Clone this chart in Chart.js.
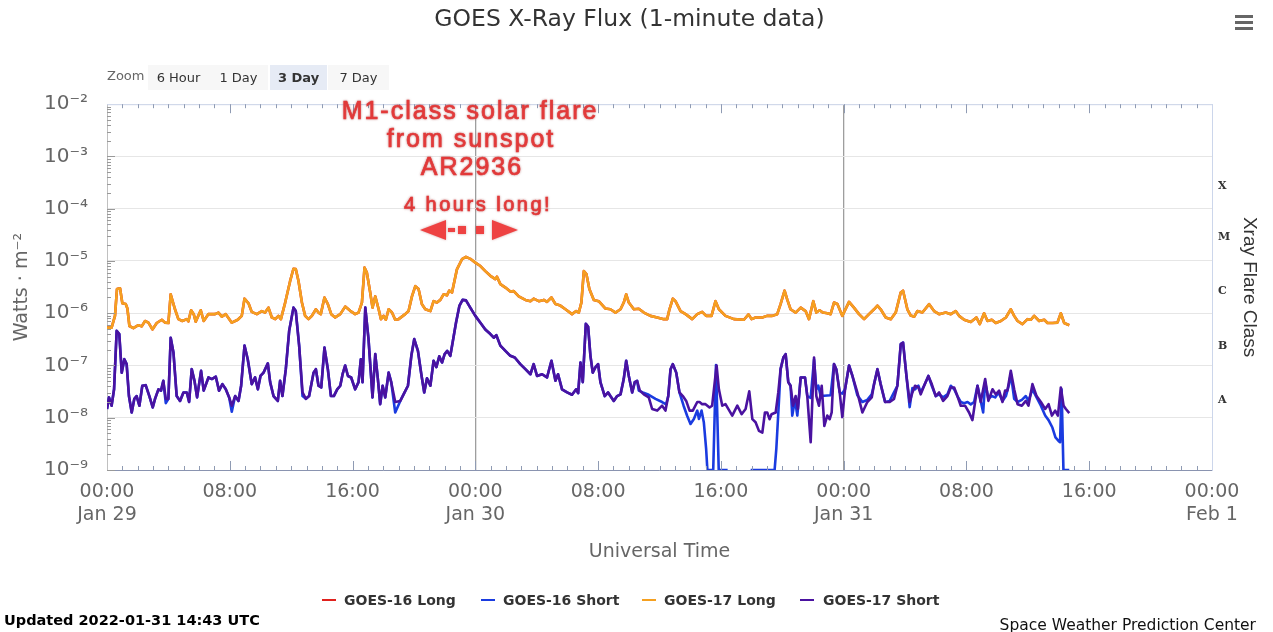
<!DOCTYPE html>
<html>
<head>
<meta charset="utf-8">
<title>GOES X-Ray Flux</title>
<script src="https://cdn.jsdelivr.net/npm/chart.js@4.4.1/dist/chart.umd.min.js"></script>
<style>
  html, body { margin: 0; padding: 0; background: #fff; }
  #wrap { position: relative; width: 1273px; height: 632px; overflow: hidden; font-family: "DejaVu Sans", sans-serif; }
  #chart { position: absolute; left: 0; top: 0; }
  .abs { position: absolute; white-space: nowrap; }
  .zoomlabel { left: 107px; top: 68px; font-size: 13px; color: #666; line-height: 16px; }
  .btn { top: 65px; height: 25px; line-height: 25px; font-size: 13px; color: #333; background: #f7f7f7; text-align: center; }
  .btn.on { background: #e6ebf5; font-weight: bold; }
  .menu { left: 1235px; width: 18px; height: 3px; background: #666; }
  .sym { top: 599px; width: 14px; height: 2px; }
  .leg { top: 591px; font-size: 14px; font-weight: bold; color: #333; line-height: 18px; }
  .updated { left: 4px; top: 611px; font-size: 14.5px; font-weight: bold; color: #000; line-height: 18px; }
  .credit { right: 17px; top: 616px; font-size: 15.5px; color: #111; line-height: 18px; }
</style>
</head>
<body>
<div id="wrap">
  <canvas id="chart" width="1273" height="632"></canvas>

  <div class="abs zoomlabel">Zoom</div>
  <div class="abs btn" style="left:148px;width:61px">6 Hour</div>
  <div class="abs btn" style="left:209px;width:59px">1 Day</div>
  <div class="abs btn on" style="left:270px;width:57px">3 Day</div>
  <div class="abs btn" style="left:328px;width:61px">7 Day</div>

  <div class="abs menu" style="top:15px"></div>
  <div class="abs menu" style="top:21px"></div>
  <div class="abs menu" style="top:27px"></div>

  <div class="abs sym" style="left:322px;background:#e0211d"></div>
  <div class="abs leg" style="left:344px">GOES-16 Long</div>
  <div class="abs sym" style="left:481px;background:#1a3be0"></div>
  <div class="abs leg" style="left:503px">GOES-16 Short</div>
  <div class="abs sym" style="left:642px;background:#f5a020"></div>
  <div class="abs leg" style="left:664px">GOES-17 Long</div>
  <div class="abs sym" style="left:800px;background:#4a12a0"></div>
  <div class="abs leg" style="left:823px">GOES-17 Short</div>

  <div class="abs updated">Updated 2022-01-31 14:43 UTC</div>
  <div class="abs credit">Space Weather Prediction Center</div>
</div>

<script>
// hours since 2022-01-29 00:00 UTC, flux in W/m^2
const dayLabels = ['Jan 29', 'Jan 30', 'Jan 31', 'Feb 1'];
const decadeTicks = [1e-9, 1e-8, 1e-7, 1e-6, 1e-5, 1e-4, 1e-3, 1e-2];
const flareClasses = ['A', 'B', 'C', 'M', 'X'];
const flareTicks = [2.2e-8, 2.3e-7, 2.7e-6, 2.8e-5, 2.65e-4];

const long17Hours = [
  0, 0.3, 0.52, 0.65, 0.85, 1.0, 1.22, 1.33, 1.46, 1.72,
  2.04, 2.26, 2.48, 2.7, 2.96, 3.24, 3.57, 3.78, 4.0, 4.15,
  4.43, 4.65, 4.91, 5.2, 5.3, 5.48, 5.65, 5.78, 6.11, 6.3,
  6.6, 7.04, 7.26, 7.48, 7.74, 8.13, 8.52, 8.78, 8.96, 9.22,
  9.43, 9.76, 10.09, 10.3, 10.52, 10.74, 10.96, 11.17, 11.33, 11.61,
  11.93, 12.15, 12.3, 12.48, 12.7, 12.91, 13.13, 13.35, 13.61, 13.78,
  13.93, 14.17, 14.39, 14.61, 14.87, 15.2, 15.52, 15.85, 16.17, 16.39,
  16.61, 16.78, 16.93, 17.15, 17.3, 17.48, 17.7, 17.85, 18.02, 18.17,
  18.35, 18.57, 18.78, 19.0, 19.43, 19.65, 19.87, 20.09, 20.3, 20.52,
  20.74, 21.07, 21.28, 21.5, 21.72, 21.93, 22.15, 22.3, 22.48, 22.8,
  23.13, 23.39, 23.67, 24.0, 24.33, 24.65, 24.98, 25.3, 25.41, 25.63,
  25.96, 26.28, 26.5, 26.83, 27.26, 27.59, 27.8, 28.13, 28.46, 28.67,
  28.96, 29.22, 29.54, 29.87, 30.3, 30.57, 30.74, 30.91, 31.07, 31.24,
  31.43, 31.72, 32.04, 32.48, 32.8, 33.13, 33.46, 33.67, 33.83, 34.0,
  34.33, 34.65, 34.98, 35.41, 35.85, 36.28, 36.5, 36.65, 36.87, 37.04,
  37.37, 37.7, 38.13, 38.46, 38.78, 39.04, 39.39, 39.65, 39.87, 40.3,
  40.85, 41.5, 41.8, 42.0, 42.26, 42.7, 43.0, 43.35, 43.67, 43.89,
  44.15, 44.33, 44.54, 44.87, 45.2, 45.52, 45.74, 46.02, 46.22, 46.43,
  46.65, 46.93, 47.15, 47.37, 47.59, 47.91, 48.35, 48.67, 49.0, 49.33,
  49.65, 49.98, 50.2, 50.41, 50.74, 51.07, 51.39, 51.72, 51.87, 52.15,
  52.37, 52.6, 52.8, 53.13, 53.57, 53.89, 54.22, 54.65, 54.98, 55.3,
  55.52, 55.85, 56.28, 56.65, 56.87, 57.15, 57.37, 57.65, 57.91, 58.24,
  58.57, 58.89, 59.11, 59.33, 59.65, 59.98, 60.2, 60.41, 60.74, 61.07,
  61.28, 61.61, 61.93, 62.15, 62.37, 62.7
];
const long17Flux = [
  5.3e-7, 5.3e-7, 8.9e-7, 2.9e-6, 3.0e-6, 1.55e-6, 1.5e-6, 1.23e-6, 5.7e-7, 5.2e-7,
  5.9e-7, 5.6e-7, 7.1e-7, 6.6e-7, 4.9e-7, 6.5e-7, 7.5e-7, 6.6e-7, 6.5e-7, 2.3e-6,
  1.19e-6, 7.7e-7, 7.1e-7, 7.7e-7, 7.0e-7, 1.14e-6, 9.6e-7, 6.9e-7, 1.14e-6, 7.1e-7,
  9.6e-7, 9.6e-7, 1.03e-6, 8.6e-7, 9.6e-7, 6.6e-7, 7.5e-7, 8.9e-7, 1.9e-6, 1.55e-6,
  1.06e-6, 9.6e-7, 1.1e-6, 1.03e-6, 1.28e-6, 8.3e-7, 7.7e-7, 8.9e-7, 7.7e-7, 1.6e-6,
  4.1e-6, 7.1e-6, 7.0e-6, 4.1e-6, 1.6e-6, 8.9e-7, 7.7e-7, 8.9e-7, 1.19e-6, 1.03e-6,
  9.6e-7, 2.0e-6, 1.49e-6, 9.6e-7, 8.3e-7, 9.6e-7, 1.34e-6, 1.11e-6, 9.6e-7, 1.03e-6,
  1.6e-6, 7.5e-6, 6.0e-6, 2.5e-6, 1.28e-6, 2.1e-6, 1.19e-6, 7.7e-7, 8.9e-7, 7.5e-7,
  1.19e-6, 1.03e-6, 7.5e-7, 7.7e-7, 9.6e-7, 1.1e-6, 2.1e-6, 3.3e-6, 2.9e-6, 1.49e-6,
  1.19e-6, 1.1e-6, 1.7e-6, 1.6e-6, 1.8e-6, 2.3e-6, 2.2e-6, 2.7e-6, 2.5e-6, 6.9e-6,
  1.08e-5, 1.2e-5, 1.1e-5, 9.3e-6, 8.0e-6, 6.4e-6, 5.2e-6, 4.5e-6, 5.0e-6, 3.6e-6,
  3.1e-6, 2.6e-6, 2.65e-6, 2.1e-6, 1.8e-6, 1.7e-6, 1.9e-6, 1.7e-6, 1.8e-6, 1.65e-6,
  2.0e-6, 1.5e-6, 1.4e-6, 1.19e-6, 9.6e-7, 1.1e-6, 1.03e-6, 1.6e-6, 6.4e-6, 5.6e-6,
  2.9e-6, 1.8e-6, 1.7e-6, 1.23e-6, 1.19e-6, 1.03e-6, 1.19e-6, 1.6e-6, 2.3e-6, 1.6e-6,
  1.19e-6, 1.22e-6, 1.03e-6, 8.9e-7, 8.3e-7, 7.7e-7, 7.7e-7, 1.19e-6, 1.9e-6, 1.7e-6,
  1.1e-6, 9.6e-7, 7.7e-7, 9.6e-7, 1.06e-6, 8.9e-7, 8.9e-7, 1.7e-6, 1.19e-6, 8.9e-7,
  7.7e-7, 7.5e-7, 9.5e-7, 7.7e-7, 8.3e-7, 8.3e-7, 8.9e-7, 8.9e-7, 9.6e-7, 1.49e-6,
  2.7e-6, 1.8e-6, 1.19e-6, 1.03e-6, 1.28e-6, 1.1e-6, 7.7e-7, 1.7e-6, 1.03e-6, 1.14e-6,
  1.03e-6, 1.0e-6, 9.6e-7, 1.6e-6, 1.5e-6, 8.9e-7, 1.65e-6, 1.28e-6, 9.6e-7, 7.7e-7,
  9.6e-7, 1.19e-6, 1.4e-6, 1.19e-6, 8.3e-7, 7.7e-7, 1.03e-6, 2.5e-6, 2.7e-6, 1.19e-6,
  9.0e-7, 8.6e-7, 1.1e-6, 1.03e-6, 1.49e-6, 1.1e-6, 9.6e-7, 1.03e-6, 9.6e-7, 1.1e-6,
  8.9e-7, 7.5e-7, 6.8e-7, 8.3e-7, 6.2e-7, 1.0e-6, 7.1e-7, 7.5e-7, 6.5e-7, 7.1e-7,
  8.3e-7, 1.19e-6, 8.9e-7, 7.1e-7, 6.2e-7, 7.7e-7, 7.5e-7, 8.9e-7, 7.1e-7, 7.5e-7,
  6.5e-7, 6.5e-7, 6.6e-7, 1.0e-6, 6.5e-7, 5.9e-7
];

// GOES-16 long sits exactly under GOES-17 long in the picture
const long16Hours = long17Hours;
const long16Flux = long17Flux;

const short17Hours = [
  0, 0.13, 0.3, 0.46, 0.63, 0.8, 0.96, 1.13, 1.28, 1.43,
  1.61, 1.78, 1.93, 2.11, 2.3, 2.52, 2.76, 2.98, 3.13, 3.35,
  3.52, 3.67, 3.83, 4.0, 4.15, 4.33, 4.54, 4.76, 4.98, 5.2,
  5.35, 5.52, 5.7, 5.87, 6.13, 6.3, 6.61, 6.83, 7.09, 7.3,
  7.52, 7.74, 7.96, 8.13, 8.35, 8.57, 8.74, 8.96, 9.17, 9.43,
  9.65, 9.83, 10.0, 10.2, 10.48, 10.63, 10.85, 11.13, 11.28, 11.43,
  11.65, 11.87, 12.15, 12.3, 12.52, 12.74, 12.96, 13.17, 13.46, 13.61,
  13.78, 13.96, 14.17, 14.39, 14.59, 14.78, 15.0, 15.2, 15.35, 15.52,
  15.7, 15.91, 16.17, 16.39, 16.54, 16.65, 16.83, 17.04, 17.3, 17.48,
  17.65, 17.8, 17.96, 18.13, 18.35, 18.52, 18.78, 19.11, 19.39, 19.61,
  19.83, 20.02, 20.26, 20.48, 20.67, 20.85, 21.07, 21.28, 21.46, 21.65,
  21.83, 22.0, 22.17, 22.37, 22.52, 22.74, 22.96, 23.17, 23.39, 23.67,
  24.0, 24.33, 24.65, 24.98, 25.2, 25.37, 25.63, 25.96, 26.28, 26.57,
  26.93, 27.26, 27.59, 27.8, 28.02, 28.35, 28.67, 28.96, 29.22, 29.39,
  29.65, 29.98, 30.3, 30.57, 30.7, 30.85, 31.0, 31.2, 31.35, 31.5,
  31.65, 31.83, 32.0, 32.15, 32.43, 32.65, 32.8, 33.02, 33.24, 33.46,
  33.67, 33.83, 34.0, 34.22, 34.39,
  34.54, 34.72, 34.98, 35.3, 35.52, 35.85, 36.17, 36.39, 36.57, 36.72,
  36.87, 37.09, 37.3, 37.52, 37.74, 37.96, 38.17, 38.46, 38.61, 38.78,
  39.0, 39.26, 39.43, 39.72, 39.87, 40.09, 40.3, 40.74, 41.07, 41.35,
  41.61, 41.85, 42.05, 42.26, 42.48, 42.7, 42.87, 43.02, 43.17, 43.3,
  43.57, 43.74, 43.89, 44.07, 44.22, 44.39, 44.54, 44.7, 44.87, 45.02,
  45.2, 45.48, 45.63, 45.85, 46.07, 46.22, 46.39, 46.57, 46.74, 46.93,
  47.09, 47.22, 47.37, 47.52, 47.74, 47.91, 48.09, 48.35, 48.57, 48.89,
  49.22, 49.54, 49.83, 49.98, 50.2, 50.41, 50.7, 51.0, 51.28, 51.5,
  51.72, 51.87, 52.09, 52.3, 52.48, 52.65, 52.87, 53.02, 53.24, 53.52,
  53.74, 54.0, 54.22, 54.48, 54.76, 54.98, 55.2, 55.41, 55.63, 55.91,
  56.17, 56.39, 56.72, 56.93, 57.22, 57.43, 57.7, 57.91, 58.13, 58.35,
  58.52, 58.67, 58.89, 59.11, 59.33, 59.61, 59.87, 60.04, 60.3, 60.57,
  60.85, 61.13, 61.35, 61.57, 61.78, 61.96, 62.15, 62.33, 62.48, 62.7
];
const short17Flux = [
  1.47e-8, 2.45e-8, 1.7e-8, 3.5e-8, 4.6e-7, 4.0e-7, 7.3e-8, 1.32e-7, 1.06e-7, 2.6e-8,
  1.26e-8, 2.3e-8, 2.6e-8, 1.7e-8, 4.1e-8, 4.2e-8, 2.6e-8, 1.57e-8, 2.3e-8, 3.5e-8,
  3.3e-8, 5.1e-8, 2.3e-8, 2.3e-8, 3.4e-7, 1.77e-7, 2.6e-8, 2.1e-8, 3.05e-8, 3.05e-8,
  2.0e-8, 8.5e-8, 5.1e-8, 2.45e-8, 7.9e-8, 3.3e-8, 5.9e-8, 5.5e-8, 6.1e-8, 3.3e-8,
  4.4e-8, 3.5e-8, 2.45e-8, 1.7e-8, 2.6e-8, 2.1e-8, 4.1e-8, 2.4e-7, 1.32e-7, 4.4e-8,
  5.9e-8, 3.5e-8, 6.3e-8, 7.3e-8, 1.1e-7, 4.8e-8, 2.6e-8, 2.1e-8, 5.1e-8, 2.6e-8,
  8.5e-8, 4.6e-7, 1.28e-6, 1.1e-6, 2.4e-7, 3.05e-8, 2.3e-8, 2.6e-8, 7.3e-8, 8.5e-8,
  4.1e-8, 3.8e-8, 2.2e-7, 8.5e-8, 2.6e-8, 2.6e-8, 3.5e-8, 4.1e-8, 6.8e-8, 1.0e-7,
  6.3e-8, 5.9e-8, 3.5e-8, 4.8e-8, 1.32e-7, 4.8e-8, 1.28e-6, 3.2e-7, 2.45e-8, 1.65e-7,
  5.5e-8, 1.82e-8, 4.1e-8, 2.45e-8, 7.3e-8, 4.8e-8, 2.0e-8, 2.1e-8, 3.05e-8, 4.1e-8,
  1.53e-7, 3.2e-7, 1.9e-7, 6.8e-8, 3.05e-8, 5.7e-8, 4.1e-8, 1.23e-7, 9.3e-8, 1.5e-7,
  1.14e-7, 1.65e-7, 1.9e-7, 1.53e-7, 2.75e-7, 6.6e-7, 1.38e-6, 1.8e-6, 1.76e-6, 1.28e-6,
  8.9e-7, 6.6e-7, 4.9e-7, 4.0e-7, 3.4e-7, 3.8e-7, 2.4e-7, 1.9e-7, 1.53e-7, 1.42e-7,
  1.06e-7, 8.5e-8, 6.8e-8, 1.06e-7, 6.3e-8, 6.8e-8, 5.9e-8, 1.23e-7, 5.1e-8, 6.8e-8,
  3.5e-8, 3.05e-8, 2.75e-8, 3.5e-8, 2.95e-8, 1.14e-7, 4.8e-8, 6.3e-7, 5.5e-7, 1.53e-7,
  7.3e-8, 9.3e-8, 1.06e-7, 4.8e-8, 2.6e-8, 3.05e-8, 2.6e-8, 2.1e-8, 2.6e-8, 2.8e-8,
  5.5e-8, 1.23e-7, 6.3e-8, 3.05e-8, 4.8e-8,
  5.1e-8, 3.3e-8, 2.8e-8, 2.45e-8, 1.47e-8, 1.37e-8, 1.7e-8, 1.37e-8, 2.6e-8, 8.5e-8,
  1.06e-7, 7.3e-8, 3.05e-8, 2.6e-8, 2.1e-8, 1.37e-8, 1.37e-8, 2.0e-8, 2.0e-8, 1.82e-8,
  1.82e-8, 1.57e-8, 1.7e-8, 1.0e-7, 3.5e-8, 1.7e-8, 1.82e-8, 1.1e-8, 1.7e-8, 1.17e-8,
  1.47e-8, 3.2e-8, 9.4e-9, 8.2e-9, 5.6e-9, 5.2e-9, 1.26e-8, 1.26e-8, 9.4e-9, 1.17e-8,
  1.26e-8, 3.05e-8, 8.5e-8, 1.42e-7, 1.65e-7, 4.8e-8, 4.1e-8, 1.7e-8, 2.6e-8, 1.47e-8,
  5.9e-8, 5.9e-8, 2.6e-8, 3.4e-9, 1.42e-7, 2.6e-8, 1.7e-8, 4.1e-8, 7.0e-9, 1.1e-8,
  9.4e-9, 1.26e-8, 1.06e-7, 8.5e-8, 3.05e-8, 1.03e-8, 3.5e-8, 1.0e-7, 6.3e-8, 3.05e-8,
  1.26e-8, 2.0e-8, 2.45e-8, 4.4e-8, 8.5e-8, 4.4e-8, 2.0e-8, 2.0e-8, 2.3e-8, 4.1e-8,
  2.56e-7, 2.75e-7, 6.3e-8, 2.0e-8, 3.05e-8, 4.1e-8, 3.8e-8, 2.8e-8, 4.1e-8, 6.3e-8,
  4.4e-8, 2.6e-8, 3.05e-8, 2.1e-8, 2.6e-8, 3.8e-8, 3.8e-8, 2.6e-8, 1.7e-8, 1.7e-8,
  1.26e-8, 9.0e-9, 4.1e-8, 2.0e-8, 5.5e-8, 2.1e-8, 3.5e-8, 2.8e-8, 3.3e-8, 2.0e-8,
  3.3e-8, 3.3e-8, 7.9e-8, 3.5e-8, 1.82e-8, 1.7e-8, 2.1e-8, 1.7e-8, 4.4e-8, 2.6e-8,
  2.0e-8, 1.47e-8, 1.82e-8, 1.1e-8, 1.37e-8, 1.1e-8, 3.8e-8, 1.7e-8, 1.47e-8, 1.23e-8
];

const short16Hours = [
  0, 0.13, 0.3, 0.46, 0.63, 0.8, 0.96, 1.13, 1.28, 1.43,
  1.61, 1.78, 1.93, 2.11, 2.3, 2.52, 2.76, 2.98, 3.13, 3.35,
  3.52, 3.67, 3.83, 4.0, 4.15, 4.33, 4.54, 4.76, 4.98, 5.2,
  5.35, 5.52, 5.7, 5.87, 6.13, 6.3, 6.61, 6.83, 7.09, 7.3,
  7.52, 7.74, 7.96, 8.13, 8.35, 8.57, 8.74, 8.96, 9.17, 9.43,
  9.65, 9.83, 10.0, 10.2, 10.48, 10.63, 10.85, 11.13, 11.28, 11.43,
  11.65, 11.87, 12.15, 12.3, 12.52, 12.74, 12.96, 13.17, 13.46, 13.61,
  13.78, 13.96, 14.17, 14.39, 14.59, 14.78, 15.0, 15.2, 15.35, 15.52,
  15.7, 15.91, 16.17, 16.39, 16.54, 16.65, 16.83, 17.04, 17.3, 17.48,
  17.65, 17.8, 17.96, 18.13, 18.35, 18.52, 18.78, 19.11, 19.39, 19.61,
  19.83, 20.02, 20.26, 20.48, 20.67, 20.85, 21.07, 21.28, 21.46, 21.65,
  21.83, 22.0, 22.17, 22.37, 22.52, 22.74, 22.96, 23.17, 23.39, 23.67,
  24.0, 24.33, 24.65, 24.98, 25.2, 25.37, 25.63, 25.96, 26.28, 26.57,
  26.93, 27.26, 27.59, 27.8, 28.02, 28.35, 28.67, 28.96, 29.22, 29.39,
  29.65, 29.98, 30.3, 30.57, 30.7, 30.85, 31.0, 31.2, 31.35, 31.5,
  31.65, 31.83, 32.0, 32.15, 32.43, 32.65, 32.8, 33.02, 33.24, 33.46,
  33.67, 33.83, 34.0, 34.22, 34.39,
  34.54, 34.65, 34.91, 35.3, 35.74, 36.17, 36.43, 36.57, 36.72, 36.87,
  37.09, 37.3, 37.57, 37.8, 38.02, 38.24, 38.46, 38.57, 38.74, 38.89,
  39.04, 39.12, 39.5, 39.68, 39.86, 40.44, 41.2, 41.94, 43.5, 43.61,
  43.78, 43.89, 44.07, 44.22, 44.39, 44.54, 44.65, 44.83, 44.98, 45.2,
  45.48, 45.63, 45.85, 46.07, 46.22, 46.35, 46.5, 47.15, 47.37, 47.52,
  47.74, 47.91, 48.09, 48.35, 48.57, 48.89, 49.22, 49.54, 49.83, 49.98,
  50.2, 50.41, 50.7, 51.0, 51.28, 51.5, 51.72, 51.87, 52.09, 52.3,
  52.48, 52.65, 52.87, 53.02, 53.24, 53.52, 53.74, 54.0, 54.22, 54.48,
  54.76, 54.98, 55.2, 55.41, 55.63, 55.85, 56.07, 56.28, 56.5, 56.72,
  56.93, 57.09, 57.22, 57.43, 57.65, 57.87, 58.09, 58.35, 58.57, 58.78,
  58.89, 59.11, 59.33, 59.61, 59.87, 60.04, 60.3, 60.57, 60.85, 61.13,
  61.35, 61.6, 61.8, 62.0, 62.1, 62.2, 62.32, 62.7
];
const short16Flux = [
  1.47e-8, 2.45e-8, 1.7e-8, 3.5e-8, 4.6e-7, 4.0e-7, 7.3e-8, 1.32e-7, 1.06e-7, 2.6e-8,
  1.26e-8, 2.3e-8, 2.6e-8, 1.7e-8, 4.1e-8, 4.2e-8, 2.6e-8, 1.57e-8, 2.3e-8, 3.5e-8,
  3.3e-8, 5.1e-8, 1.9e-8, 2.3e-8, 3.4e-7, 1.77e-7, 2.6e-8, 2.1e-8, 3.05e-8, 3.05e-8,
  2.0e-8, 8.5e-8, 5.1e-8, 2.45e-8, 7.9e-8, 3.3e-8, 5.9e-8, 5.5e-8, 6.1e-8, 3.3e-8,
  4.4e-8, 3.5e-8, 2.45e-8, 1.3e-8, 2.6e-8, 2.1e-8, 4.1e-8, 2.4e-7, 1.32e-7, 4.4e-8,
  5.9e-8, 3.5e-8, 6.3e-8, 7.3e-8, 1.1e-7, 4.8e-8, 2.6e-8, 2.1e-8, 5.1e-8, 2.6e-8,
  8.5e-8, 4.6e-7, 1.28e-6, 1.1e-6, 2.4e-7, 2.6e-8, 2.3e-8, 2.6e-8, 7.3e-8, 8.5e-8,
  4.1e-8, 3.8e-8, 2.2e-7, 8.5e-8, 2.6e-8, 2.6e-8, 3.5e-8, 4.1e-8, 6.8e-8, 1.0e-7,
  6.3e-8, 5.9e-8, 3.5e-8, 4.8e-8, 1.32e-7, 4.8e-8, 1.28e-6, 3.2e-7, 2.45e-8, 1.65e-7,
  5.5e-8, 1.82e-8, 4.1e-8, 2.45e-8, 7.3e-8, 4.8e-8, 1.26e-8, 2.1e-8, 3.05e-8, 4.1e-8,
  1.53e-7, 3.2e-7, 1.9e-7, 6.8e-8, 3.05e-8, 5.7e-8, 4.1e-8, 1.23e-7, 9.3e-8, 1.5e-7,
  1.14e-7, 1.65e-7, 1.9e-7, 1.53e-7, 2.75e-7, 6.6e-7, 1.38e-6, 1.8e-6, 1.76e-6, 1.28e-6,
  8.9e-7, 6.6e-7, 4.9e-7, 4.0e-7, 3.4e-7, 3.8e-7, 2.4e-7, 1.9e-7, 1.53e-7, 1.42e-7,
  1.06e-7, 8.5e-8, 6.8e-8, 1.06e-7, 6.3e-8, 6.8e-8, 5.9e-8, 1.23e-7, 5.1e-8, 6.8e-8,
  3.5e-8, 3.05e-8, 2.75e-8, 3.5e-8, 2.95e-8, 1.14e-7, 4.8e-8, 6.3e-7, 5.5e-7, 1.53e-7,
  7.3e-8, 9.3e-8, 1.06e-7, 4.8e-8, 2.6e-8, 3.05e-8, 2.6e-8, 2.1e-8, 2.6e-8, 2.8e-8,
  5.5e-8, 1.23e-7, 6.3e-8, 3.05e-8, 4.8e-8,
  5.1e-8, 3.3e-8, 3.05e-8, 2.75e-8, 2.3e-8, 2.0e-8, 1.8e-8, 2.6e-8, 8.5e-8, 1.06e-7,
  7.3e-8, 3.05e-8, 1.7e-8, 1.09e-8, 7.6e-9, 9.5e-9, 1.37e-8, 9.5e-9, 1.37e-8, 8.1e-9,
  2.5e-9, 1e-9, 1e-9, 1.02e-7, 1e-9, 1e-9, null, 1e-9, 1e-9, 2.5e-9,
  2.0e-8, 8.5e-8, 1.42e-7, 1.65e-7, 4.8e-8, 4.1e-8, 1.1e-8, 2.2e-8, 1.1e-8, 5.9e-8,
  5.9e-8, 2.6e-8, 2.4e-8, 1.3e-7, 3.5e-8, 4.1e-8, 2.6e-8, 2.7e-8, 1.06e-7, 8.5e-8,
  3.05e-8, 2.9e-8, 3.5e-8, 1.0e-7, 6.3e-8, 2.7e-8, 2.0e-8, 2.2e-8, 2.8e-8, 4.4e-8,
  8.5e-8, 4.4e-8, 2.0e-8, 2.1e-8, 3.05e-8, 4.1e-8, 2.56e-7, 2.75e-7, 6.3e-8, 1.6e-8,
  3.7e-8, 3.5e-8, 4.1e-8, 3.05e-8, 4.1e-8, 6.3e-8, 4.1e-8, 2.6e-8, 2.8e-8, 2.45e-8,
  2.8e-8, 4.1e-8, 3.5e-8, 2.6e-8, 2.0e-8, 1.9e-8, 2.0e-8, 1.8e-8, 2.0e-8, 4.1e-8,
  2.1e-8, 1.26e-8, 4.8e-8, 2.3e-8, 2.6e-8, 2.45e-8, 3.05e-8, 2.1e-8, 2.6e-8, 4.4e-8,
  7.0e-8, 2.3e-8, 2.0e-8, 2.2e-8, 2.6e-8, 2.1e-8, 3.5e-8, 2.45e-8, 1.7e-8, 1.1e-8,
  9.0e-9, 6.5e-9, 4.2e-9, 3.6e-9, 3.4e-9, 3.5e-8, 1e-9, 1e-9
];

function toPoints(hours, flux) {
  return hours.map((h, i) => ({ x: h, y: flux[i] }));
}

const SUP = { '-': '\u207B', '0': '\u2070', '1': '\u00B9', '2': '\u00B2', '3': '\u00B3',
  '4': '\u2074', '5': '\u2075', '6': '\u2076', '7': '\u2077', '8': '\u2078', '9': '\u2079' };
function powLabel(v) {
  const e = Math.round(Math.log10(v));
  return '10' + String(e).split('').map(c => SUP[c]).join('');
}

const decor = {
  id: 'decor',
  afterDraw(chart) {
    const { ctx, chartArea: a, scales: { x, y } } = chart;
    ctx.save();
    // top frame line
    ctx.strokeStyle = '#ccd6eb';
    ctx.lineWidth = 1;
    ctx.beginPath();
    ctx.moveTo(a.left, a.top + 0.5);
    ctx.lineTo(a.right, a.top + 0.5);
    ctx.stroke();
    // hourly ticks along top and bottom
    ctx.strokeStyle = '#8f9bb3';
    ctx.beginPath();
    for (let h = 1; h < 72; h++) {
      const px = Math.round(x.getPixelForValue(h)) + 0.5;
      const len = h % 8 === 0 ? 9 : 4;
      ctx.moveTo(px, a.bottom);
      ctx.lineTo(px, a.bottom - len);
      ctx.moveTo(px, a.top);
      ctx.lineTo(px, a.top + len);
    }
    ctx.stroke();
    // minor ticks on the flux axis
    ctx.strokeStyle = '#999';
    ctx.beginPath();
    for (let e = -9; e < -2; e++) {
      for (let m = 1; m < 10; m++) {
        const py = Math.round(y.getPixelForValue(m * Math.pow(10, e))) + 0.5;
        const len = m === 1 ? 8 : 4;
        ctx.moveTo(a.left, py);
        ctx.lineTo(a.left + len, py);
      }
    }
    ctx.stroke();

    // flare annotation
    ctx.fillStyle = '#ee4242';
    ctx.strokeStyle = '#e23a3a';
    ctx.lineWidth = 0.7;
    ctx.shadowColor = 'rgba(140,0,0,0.4)';
    ctx.shadowBlur = 2.5;
    ctx.textAlign = 'center';
    ctx.textBaseline = 'middle';
    ctx.font = '25px "Liberation Sans", Arial, sans-serif';
    if ('letterSpacing' in ctx) ctx.letterSpacing = '2px';
    const big = [['M1-class solar flare', 470, 112], ['from sunspot', 471, 140], ['AR2936', 472, 168]];
    big.forEach(([t, tx, ty]) => { ctx.fillText(t, tx, ty); ctx.strokeText(t, tx, ty); });
    ctx.font = '20px "Liberation Sans", Arial, sans-serif';
    if ('letterSpacing' in ctx) ctx.letterSpacing = '2.5px';
    ctx.fillText('4 hours long!', 478, 205);
    ctx.strokeText('4 hours long!', 478, 205);
    // double arrow
    ctx.beginPath();
    ctx.moveTo(420, 230); ctx.lineTo(446, 220); ctx.lineTo(446, 240); ctx.closePath();
    ctx.moveTo(518, 230); ctx.lineTo(492, 220); ctx.lineTo(492, 240); ctx.closePath();
    ctx.fill();
    ctx.fillRect(448, 228, 7, 4);
    ctx.fillRect(458, 226, 8, 8);
    ctx.fillRect(476, 226, 8, 8);
    ctx.restore();
  }
};

const ctx = document.getElementById('chart').getContext('2d');
const fluxChart = new Chart(ctx, {
  type: 'line',
  data: {
    datasets: [
      { label: 'GOES-16 Long', data: toPoints(long16Hours, long16Flux), borderColor: '#e0211d', order: 3 },
      { label: 'GOES-16 Short', data: toPoints(short16Hours, short16Flux), borderColor: '#1a3be0', order: 2 },
      { label: 'GOES-17 Long', data: toPoints(long17Hours, long17Flux), borderColor: '#f5a020', order: 1 },
      { label: 'GOES-17 Short', data: toPoints(short17Hours, short17Flux), borderColor: '#4a12a0', order: 0 }
    ]
  },
  options: {
    responsive: false,
    animation: false,
    devicePixelRatio: 1,
    spanGaps: false,
    elements: {
      line: { borderWidth: 2.6, tension: 0, borderJoinStyle: 'round' },
      point: { radius: 0 }
    },
    layout: { padding: { top: 0, left: 0, right: 14, bottom: 62 } },
    plugins: {
      legend: { display: false },
      tooltip: { enabled: false },
      title: {
        display: true,
        text: 'GOES X-Ray Flux (1-minute data)',
        color: '#333',
        font: { family: 'DejaVu Sans', size: 23.5, weight: 'normal' },
        padding: { top: 6, bottom: 70 }
      }
    },
    scales: {
      x: {
        type: 'linear',
        min: 0,
        max: 72,
        afterFit: s => { s.height = 100; },
        ticks: {
          stepSize: 8,
          autoSkip: false,
          maxRotation: 0,
          padding: 10.5,
          color: '#666',
          font: { family: 'DejaVu Sans', size: 19, lineHeight: 1.21 },
          callback: v => {
            const hh = v % 24;
            const t = String(hh).padStart(2, '0') + ':00';
            return hh === 0 ? [t, dayLabels[v / 24]] : t;
          }
        },
        grid: {
          drawTicks: false,
          lineWidth: 1.3,
          color: c => (c.tick && (c.tick.value === 24 || c.tick.value === 48)) ? '#9e9e9e' : 'rgba(0,0,0,0)'
        },
        border: { color: '#8a94b0', width: 1 },
        title: {
          display: true,
          text: 'Universal Time',
          color: '#666',
          font: { family: 'DejaVu Sans', size: 19 },
          padding: { top: 0, bottom: 7 }
        }
      },
      y: {
        type: 'logarithmic',
        position: 'left',
        min: 1e-9,
        max: 1e-2,
        afterFit: s => { s.width = 107; },
        afterBuildTicks: s => { s.ticks = decadeTicks.map(v => ({ value: v, major: true })); },
        ticks: {
          autoSkip: false,
          padding: 19,
          color: '#666',
          font: { family: 'DejaVu Sans', size: 20 },
          callback: v => powLabel(v)
        },
        grid: { color: '#e6e6e6', drawTicks: false },
        border: { color: '#c0c0c0' },
        title: {
          display: true,
          text: 'Watts \u00B7 m\u207B\u00B2',
          color: '#666',
          font: { family: 'DejaVu Sans', size: 19 },
          padding: { top: 11, bottom: 0 }
        }
      },
      flare: {
        type: 'logarithmic',
        position: 'right',
        min: 1e-9,
        max: 1e-2,
        afterFit: s => { s.width = 47; },
        afterBuildTicks: s => { s.ticks = flareTicks.map(v => ({ value: v })); },
        ticks: {
          autoSkip: false,
          padding: 6,
          color: '#333',
          font: { family: 'DejaVu Serif', size: 11, weight: 'bold' },
          callback: (v, i) => flareClasses[i]
        },
        grid: { drawOnChartArea: false, drawTicks: false },
        border: { color: '#ccd6eb' },
        title: {
          display: true,
          text: 'Xray Flare Class',
          color: '#333',
          font: { family: 'Liberation Sans', size: 19, lineHeight: 1 },
          padding: { top: 0, bottom: 0 }
        }
      }
    }
  },
  plugins: [decor]
});
</script>
</body>
</html>
